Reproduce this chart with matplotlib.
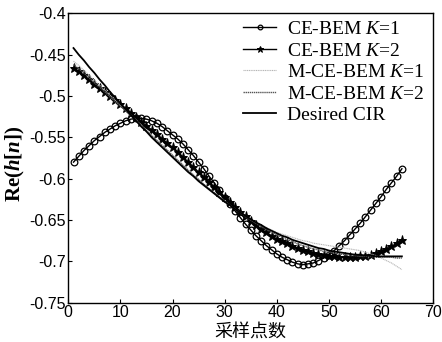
import numpy as np
import matplotlib
matplotlib.use("Agg")
import matplotlib.pyplot as plt

# ==================== data ====================
n = np.arange(1, 65)

ce_bem_k1 = [-0.580, -0.573, -0.566, -0.560, -0.554, -0.549, -0.544, -0.540, -0.536, -0.533,
             -0.530, -0.528, -0.527, -0.527, -0.528, -0.530, -0.533, -0.537, -0.542, -0.547,
             -0.552, -0.558, -0.565, -0.572, -0.580, -0.588, -0.597, -0.605, -0.614, -0.623,
             -0.631, -0.639, -0.647, -0.655, -0.662, -0.669, -0.675, -0.681, -0.686, -0.691,
             -0.695, -0.698, -0.701, -0.703, -0.704, -0.703, -0.702, -0.699, -0.696, -0.692,
             -0.687, -0.681, -0.675, -0.668, -0.661, -0.654, -0.646, -0.638, -0.630, -0.622,
             -0.613, -0.605, -0.597, -0.588]

ce_bem_k2 = [-0.466, -0.470, -0.475, -0.480, -0.485, -0.490, -0.495, -0.500, -0.505, -0.510,
             -0.515, -0.520, -0.526, -0.531, -0.536, -0.541, -0.546, -0.552, -0.557, -0.562,
             -0.568, -0.574, -0.580, -0.586, -0.592, -0.598, -0.604, -0.610, -0.616, -0.622,
             -0.628, -0.634, -0.640, -0.645, -0.651, -0.656, -0.661, -0.665, -0.669, -0.673,
             -0.675, -0.678, -0.681, -0.684, -0.686, -0.688, -0.690, -0.691, -0.692, -0.693,
             -0.694, -0.695, -0.695, -0.695, -0.695, -0.694, -0.693, -0.692, -0.690, -0.688,
             -0.685, -0.682, -0.678, -0.674]

m_ce_bem_k1 = [-0.458, -0.463, -0.469, -0.475, -0.481, -0.487, -0.493, -0.499, -0.505, -0.511,
               -0.517, -0.523, -0.529, -0.535, -0.541, -0.547, -0.553, -0.559, -0.565, -0.571,
               -0.577, -0.583, -0.589, -0.595, -0.601, -0.606, -0.612, -0.617, -0.622, -0.627,
               -0.632, -0.637, -0.641, -0.645, -0.649, -0.653, -0.656, -0.659, -0.662, -0.665,
               -0.667, -0.669, -0.671, -0.673, -0.675, -0.676, -0.678, -0.679, -0.680, -0.681,
               -0.682, -0.683, -0.684, -0.685, -0.686, -0.687, -0.689, -0.691, -0.693, -0.696,
               -0.699, -0.702, -0.706, -0.710]

m_ce_bem_k2 = [-0.462, -0.467, -0.472, -0.478, -0.484, -0.489, -0.495, -0.501, -0.507, -0.512,
               -0.518, -0.524, -0.530, -0.536, -0.542, -0.548, -0.554, -0.560, -0.566, -0.572,
               -0.578, -0.584, -0.590, -0.596, -0.601, -0.607, -0.612, -0.617, -0.622, -0.627,
               -0.632, -0.637, -0.641, -0.646, -0.650, -0.654, -0.658, -0.661, -0.665, -0.668,
               -0.671, -0.674, -0.676, -0.679, -0.681, -0.683, -0.685, -0.686, -0.688, -0.689,
               -0.690, -0.691, -0.692, -0.693, -0.693, -0.694, -0.694, -0.694, -0.695, -0.695,
               -0.695, -0.695, -0.696, -0.696]

desired = [-0.442, -0.450, -0.457, -0.465, -0.472, -0.480, -0.487, -0.495, -0.502, -0.509,
           -0.516, -0.523, -0.530, -0.537, -0.543, -0.550, -0.556, -0.562, -0.568, -0.574,
           -0.580, -0.586, -0.592, -0.597, -0.603, -0.608, -0.613, -0.618, -0.623, -0.628,
           -0.632, -0.637, -0.641, -0.645, -0.649, -0.653, -0.656, -0.660, -0.663, -0.666,
           -0.669, -0.671, -0.674, -0.676, -0.678, -0.680, -0.682, -0.684, -0.685, -0.687,
           -0.688, -0.689, -0.690, -0.691, -0.692, -0.692, -0.693, -0.693, -0.694, -0.694,
           -0.694, -0.694, -0.694, -0.694]

xticks = [0, 10, 20, 30, 40, 50, 60, 70]
yticks = [-0.75, -0.7, -0.65, -0.6, -0.55, -0.5, -0.45, -0.4]
ytick_labels = ["-0.75", "-0.7", "-0.65", "-0.6", "-0.55", "-0.5", "-0.45", "-0.4"]

# ==================== style ====================
plt.rcParams["mathtext.fontset"] = "custom"
plt.rcParams["mathtext.rm"] = "Liberation Serif"
plt.rcParams["mathtext.it"] = "Liberation Serif:italic"
plt.rcParams["mathtext.bf"] = "Liberation Serif:bold:italic"

fig = plt.figure(figsize=(4.42, 3.42), dpi=100)
ax = fig.add_axes([0.1545, 0.115, 0.8255, 0.846])

ax.plot(n, ce_bem_k1, color="black", lw=1.0, marker="o", ms=4.8,
        mfc="none", mec="black", mew=0.9, label=r"CE-BEM $K$=1")
ax.plot(n, ce_bem_k2, color="black", lw=1.0, marker="*", ms=6.5,
        mfc="black", mec="black", mew=0.7, label=r"CE-BEM $K$=2")
ax.plot(n, m_ce_bem_k1, color="#b5b5b5", lw=0.8, ls=(0, (1, 0.6)),
        label=r"M-CE-BEM $K$=1")
ax.plot(n, m_ce_bem_k2, color="#555555", lw=1.0, ls=(0, (1, 0.5)),
        label=r"M-CE-BEM $K$=2")
ax.plot(n, desired, color="black", lw=1.3, label="Desired CIR")

ax.set_xlim(0, 70)
ax.set_ylim(-0.75, -0.4)
ax.set_xticks(xticks)
ax.set_xticklabels([str(t) for t in xticks], family="Liberation Sans", fontsize=11.5)
ax.set_yticks(yticks)
ax.set_yticklabels(ytick_labels, family="Liberation Sans", fontsize=11.5)
ax.tick_params(direction="in", length=3, width=0.8, pad=2)
for s in ax.spines.values():
    s.set_linewidth(1.0)

ax.set_ylabel(r"Re($\mathbf{h}$[$\mathbf{n}$])", family="Liberation Serif",
              fontweight="bold", fontsize=15)
ax.yaxis.label.set_va("center")
ax.yaxis.set_label_coords(-0.145, 0.48)
ax.set_xlabel("采样点数", family=["Noto Sans CJK SC", "DejaVu Sans"], fontsize=13,
              labelpad=2)

leg = ax.legend(loc="upper left", bbox_to_anchor=(0.479, 0.975), frameon=False,
                prop={"family": "Liberation Serif", "size": 14},
                handlelength=1.7, handletextpad=0.55, labelspacing=0.2,
                borderpad=0, borderaxespad=0, markerscale=0.7)

fig.savefig("out.png", dpi=100)
